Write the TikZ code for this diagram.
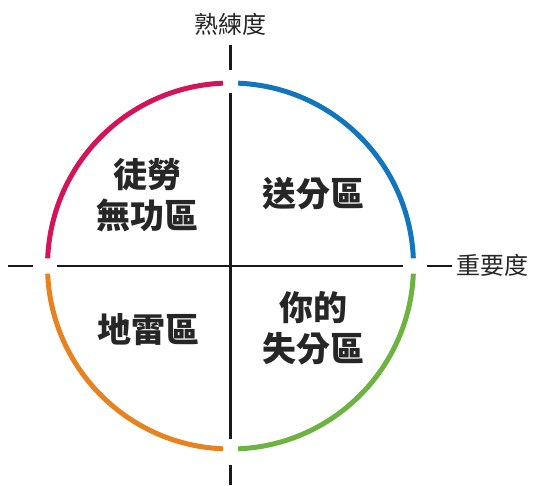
\documentclass[tikz,border=0pt]{standalone}
\usepackage{fontspec}
\newfontfamily\cjk{Noto Sans CJK TC}
\definecolor{cpink}{HTML}{D4145A}
\definecolor{cblue}{HTML}{1276BE}
\definecolor{cgreen}{HTML}{6DB33F}
\definecolor{corange}{HTML}{E8821E}
\tikzset{
  arcline/.style={line width=5pt},
  axisline/.style={line width=2.8pt, black!90},
  quad/.style={font=\cjk\bfseries\fontsize{34}{41}\selectfont, align=center, text=black!85, inner sep=0pt},
  axlabel/.style={font=\cjk\fontsize{24}{28}\selectfont, text=black!85, inner sep=0pt}
}
\begin{document}
\begin{tikzpicture}[x=1pt,y=1pt]
\useasboundingbox (0,0) rectangle (534,485);
\coordinate (c) at (230.5,219);
% arcs
\draw[arcline, cblue]   ([shift={(2.4:183)}]c)   arc[start angle=2.4,   end angle=87.6,  radius=183];
\draw[arcline, cpink]   ([shift={(92.4:183)}]c)  arc[start angle=92.4,  end angle=177.6, radius=183];
\draw[arcline, corange] ([shift={(182.4:183)}]c) arc[start angle=182.4, end angle=267.6, radius=183];
\draw[arcline, cgreen]  ([shift={(272.4:183)}]c) arc[start angle=272.4, end angle=357.6, radius=183];
% axes
\coordinate (vt) at (230.5,392);
\coordinate (vb) at (230.5,46);
\coordinate (ot1) at (230.5,440);
\coordinate (ot2) at (230.5,415);
\coordinate (ob1) at (230.5,20);
\coordinate (ob2) at (230.5,0);
\coordinate (hl) at (57,219);
\coordinate (hr) at (403,219);
\coordinate (ol1) at (8,219);
\coordinate (ol2) at (33,219);
\coordinate (or1) at (427,219);
\coordinate (or2) at (452,219);
\draw[axisline] (vt) -- (vb);
\draw[axisline] (hl) -- (hr);
\draw[axisline] (ot1) -- (ot2);
\draw[axisline] (ob1) -- (ob2);
\draw[axisline] (ol1) -- (ol2);
\draw[axisline] (or1) -- (or2);
% labels
\node[axlabel] (ylab) at (230.5,461) {熟練度};
\node[axlabel] (xlab) at (492,220) {重要度};
\node[quad] (q2) at (147,289.5) {徒勞\\無功區};
\node[quad] (q1) at (313,291) {送分區};
\node[quad] (q3) at (148,155) {地雷區};
\node[quad] (q4) at (313,157) {你的\\失分區};
\end{tikzpicture}
\end{document}
